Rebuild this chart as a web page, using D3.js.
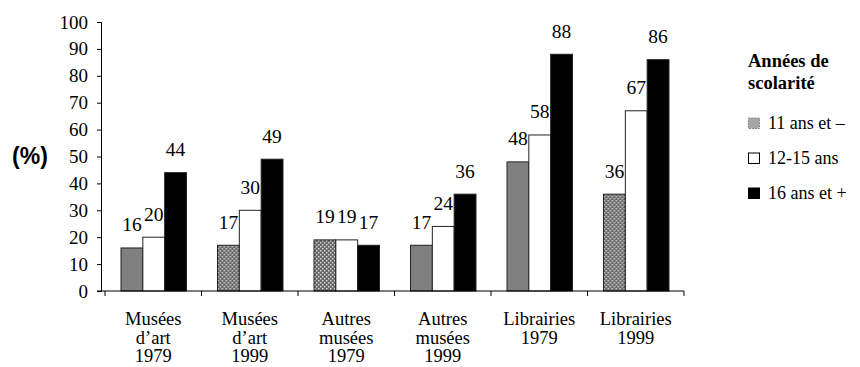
<!DOCTYPE html>
<html><head><meta charset="utf-8">
<script src="https://cdn.jsdelivr.net/npm/d3@7"></script>
<style>body{margin:0;background:#fff}svg{display:block}</style>
</head><body>
<svg id="c" width="860" height="367"></svg>
<script>
const categories = [
  ["Musées","d’art","1979"],
  ["Musées","d’art","1999"],
  ["Autres","musées","1979"],
  ["Autres","musées","1999"],
  ["Librairies","1979"],
  ["Librairies","1999"]
];
const seriesNames = ["11 ans et –","12-15 ans","16 ans et +"];
const low = [16, 17, 19, 17, 48, 36];
const mid = [20, 30, 19, 24, 58, 67];
const high = [44, 49, 17, 36, 88, 86];
const yTicks = [0,10,20,30,40,50,60,70,80,90,100];
const checkered = [false, true, true, false, false, true];

const SERIF = "Liberation Serif";
const SANS = "Liberation Sans";

const svg = d3.select("#c");
const defs = svg.append("defs");
const pat = defs.append("pattern").attr("id","chk").attr("patternUnits","userSpaceOnUse")
  .attr("width",4).attr("height",4);
pat.append("rect").attr("width",4).attr("height",4).attr("fill","#666");
pat.append("rect").attr("x",0).attr("y",0).attr("width",1.5).attr("height",1.5).attr("fill","#d4d4d4");
pat.append("rect").attr("x",2).attr("y",2).attr("width",1.5).attr("height",1.5).attr("fill","#d4d4d4");

const x0 = d3.scaleBand().domain(d3.range(categories.length)).range([105, 684]).paddingInner(0).paddingOuter(0);
const x1 = d3.scaleBand().domain(d3.range(3)).range([16, x0.bandwidth()-15]).padding(0);
const y = d3.scaleLinear().domain([0,100]).range([291, 22]);

// y axis
const yAxis = svg.append("g").attr("transform","translate(101,0)")
  .call(d3.axisLeft(y).tickValues(yTicks).tickSize(4).tickPadding(9));
yAxis.attr("font-family",SERIF).attr("font-size",19);
yAxis.select(".domain").attr("stroke","#000");
yAxis.selectAll("text").attr("fill","#000");

// bars
const series = [low, mid, high];
const fills = ["#808080","#ffffff","#000000"];
categories.forEach((cat, i) => {
  const g = svg.append("g").attr("transform",`translate(${x0(i)},0)`);
  series.forEach((vals, s) => {
    const fill = s===0 ? (checkered[i] ? "url(#chk)" : fills[0]) : fills[s];
    g.append("rect").attr("x", x1(s)).attr("y", y(vals[i]))
      .attr("width", x1.bandwidth()).attr("height", y(0)-y(vals[i]))
      .attr("fill", fill).attr("stroke","#222").attr("stroke-width",1);
    g.append("text").attr("font-family",SERIF).attr("font-size",19.5)
      .attr("x", x1(s)+x1.bandwidth()/2).attr("y", y(vals[i])-16.5)
      .attr("text-anchor","middle")
      .text(vals[i]);
  });
});

// x axis
const xAxisG = svg.append("g");
xAxisG.append("line").attr("x1",97).attr("x2",684).attr("y1",y(0)).attr("y2",y(0)).attr("stroke","#000");
const bounds = d3.range(categories.length+1).map(i => i<categories.length ? x0(i) : x0(categories.length-1)+x0.bandwidth());
xAxisG.selectAll("line.t").data(bounds).join("line").attr("class","t")
  .attr("x1",d=>d).attr("x2",d=>d).attr("y1",y(0)).attr("y2",y(0)+5).attr("stroke","#000");
categories.forEach((cat,i)=>{
  const t = svg.append("text").attr("font-family",SERIF).attr("font-size",18.5).attr("text-anchor","middle");
  cat.forEach((line,k)=>{
    t.append("tspan").attr("x", x0(i)+x0.bandwidth()/2).attr("y", 325 + k*18.5).text(line);
  });
});

// y label
svg.append("text").attr("font-family",SANS).attr("font-weight","bold").attr("font-size",23)
  .attr("x",30).attr("y",163.5).attr("text-anchor","middle").text("(%)");

// legend
const lg = svg.append("g");
lg.append("text").attr("font-family",SERIF).attr("font-weight","bold").attr("font-size",18.5).attr("x",748).attr("y",67).text("Années de");
lg.append("text").attr("font-family",SERIF).attr("font-weight","bold").attr("font-size",18.5).attr("x",748).attr("y",88.5).text("scolarité");
const legFills = ["#a6a6a6","#ffffff","#000000"];
seriesNames.forEach((n,s)=>{
  const base = 128.5 + s*35;
  lg.append("rect").attr("x",748.5).attr("y",base-10.5).attr("width",11).attr("height",10.5)
    .attr("fill",legFills[s]).attr("stroke", s===0 ? "#888" : "#000").attr("stroke-width",1)
    .attr("stroke-dasharray", s===0 ? "2,1" : null);
  lg.append("text").attr("font-family",SERIF).attr("font-size",18).attr("x",768).attr("y",base).text(n);
});
</script>
</body></html>
